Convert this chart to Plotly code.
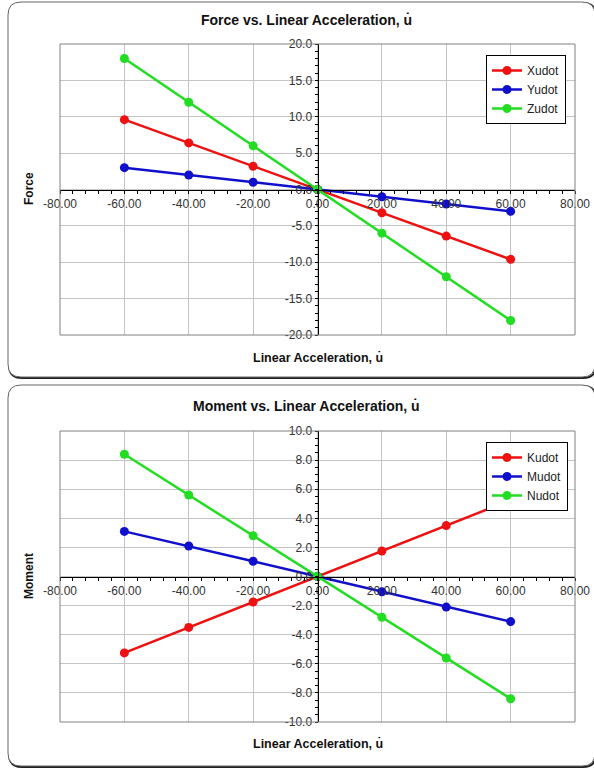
import plotly.graph_objects as go

W, H = 594, 772

# ---------------- data ----------------
accel = [-60, -40, -20, 0, 20, 40, 60]
xudot = [9.6, 6.4, 3.2, 0, -3.2, -6.4, -9.6]
yudot = [3.0, 2.0, 1.0, 0, -1.0, -2.0, -3.0]
zudot = [18.0, 12.0, 6.0, 0, -6.0, -12.0, -18.0]
kudot = [-5.25, -3.5, -1.75, 0, 1.75, 3.5, 5.25]
mudot = [3.1, 2.1, 1.05, 0, -1.05, -2.1, -3.1]
nudot = [8.4, 5.6, 2.8, 0, -2.8, -5.6, -8.4]

force_names = ["Xudot", "Yudot", "Zudot"]
moment_names = ["Kudot", "Mudot", "Nudot"]
colors = ["#EE1111", "#1010CC", "#22DD22"]

x_tickvals = [-80, -60, -40, -20, 0, 20, 40, 60, 80]
x_ticktext = ["-80.00", "-60.00", "-40.00", "-20.00", "0.00", "20.00", "40.00", "60.00", "80.00"]
y1_tickvals = [-20, -15, -10, -5, 0, 5, 10, 15, 20]
y1_ticktext = ["-20.0", "-15.0", "-10.0", "-5.0", "0.0", "5.0", "10.0", "15.0", "20.0"]
y2_tickvals = [-10, -8, -6, -4, -2, 0, 2, 4, 6, 8, 10]
y2_ticktext = ["-10.0", "-8.0", "-6.0", "-4.0", "-2.0", "0.0", "2.0", "4.0", "6.0", "8.0", "10.0"]

title1 = "Force vs. Linear Acceleration, u\u0307"
title2 = "Moment vs. Linear Acceleration, u\u0307"
xtitle = "Linear Acceleration, u\u0307"
ytitle1 = "Force"
ytitle2 = "Moment"

FONT = "Liberation Sans, Arial, sans-serif"


def px(x):
    return x / W


def py(y):
    return 1 - y / H


# plot-area geometry (pixels)
xl, xr = 60, 575
t1, b1 = 44, 335
t2, b2 = 431, 722

fig = go.Figure()

for name, vals, c in zip(force_names, [xudot, yudot, zudot], colors):
    fig.add_trace(go.Scatter(x=accel, y=vals, name=name, mode="lines+markers",
                             line=dict(color=c, width=2.5),
                             marker=dict(color=c, size=9),
                             xaxis="x", yaxis="y", legend="legend"))
for name, vals, c in zip(moment_names, [kudot, mudot, nudot], colors):
    fig.add_trace(go.Scatter(x=accel, y=vals, name=name, mode="lines+markers",
                             line=dict(color=c, width=2.5),
                             marker=dict(color=c, size=9),
                             xaxis="x2", yaxis="y2", legend="legend2"))

tickfont = dict(family=FONT, size=12, color="#333")


def xaxis_main(ypos):
    return dict(domain=[px(xl), px(xr)], range=[-80, 80],
                tickmode="array", tickvals=x_tickvals, ticktext=x_ticktext,
                showgrid=True, gridcolor="#C4C4C4", gridwidth=1,
                zeroline=False, showline=True, linecolor="black", linewidth=1,
                ticks="outside", ticklen=3, tickcolor="black",
                minor=dict(dtick=4, tick0=0, ticks="outside", ticklen=3, tickcolor="black", showgrid=False),
                anchor="free", position=ypos, tickfont=tickfont, fixedrange=True, automargin=False)


def yaxis_main(dom, rng, tv, tt, mdt, xpos):
    return dict(domain=dom, range=rng, tickmode="array", tickvals=tv, ticktext=tt,
                showgrid=True, gridcolor="#C4C4C4", gridwidth=1,
                zeroline=False, showline=True, linecolor="black", linewidth=1,
                ticks="outside", ticklen=3, tickcolor="black",
                minor=dict(dtick=mdt, tick0=0, ticks="outside", ticklen=3, tickcolor="black", showgrid=False),
                anchor="free", position=xpos, tickfont=tickfont, fixedrange=True, automargin=False)


def overlay_x(over, ypos):
    return dict(overlaying=over, domain=[px(xl), px(xr)], range=[-80, 80],
                tickmode="array", tickvals=x_tickvals,
                showgrid=False, zeroline=False, showline=False, showticklabels=False,
                ticks="inside", ticklen=3, tickcolor="black",
                minor=dict(dtick=4, tick0=0, ticks="inside", ticklen=3, tickcolor="black", showgrid=False),
                anchor="free", position=ypos, fixedrange=True, automargin=False)


def overlay_y(over, dom, rng, tv, mdt, xpos):
    return dict(overlaying=over, domain=dom, range=rng, tickmode="array", tickvals=tv,
                showgrid=False, zeroline=False, showline=False, showticklabels=False,
                ticks="inside", ticklen=3, tickcolor="black",
                minor=dict(dtick=mdt, tick0=0, ticks="inside", ticklen=3, tickcolor="black", showgrid=False),
                anchor="free", position=xpos, fixedrange=True, automargin=False)


dom1 = [py(b1), py(t1)]
dom2 = [py(b2), py(t2)]
xmid = (px(xl) + px(xr)) / 2
ymid1 = (dom1[0] + dom1[1]) / 2
ymid2 = (dom2[0] + dom2[1]) / 2

legend_style = dict(xanchor="left", yanchor="top",
                    bgcolor="white", bordercolor="black", borderwidth=1,
                    font=dict(family=FONT, size=12, color="#222"),
                    itemwidth=30, tracegroupgap=0)

fig.update_layout(
    width=W, height=H, margin=dict(l=0, r=0, t=0, b=0, autoexpand=False),
    paper_bgcolor="white", plot_bgcolor="white",
    font=dict(family=FONT, size=12, color="black"),
    xaxis=xaxis_main(ymid1),
    yaxis=yaxis_main(dom1, [-20, 20], y1_tickvals, y1_ticktext, 1, xmid),
    xaxis2=xaxis_main(ymid2),
    yaxis2=yaxis_main(dom2, [-10, 10], y2_tickvals, y2_ticktext, 0.5, xmid),
    xaxis3=overlay_x("x", ymid1),
    yaxis3=overlay_y("y", dom1, [-20, 20], y1_tickvals, 1, xmid),
    xaxis4=overlay_x("x2", ymid2),
    yaxis4=overlay_y("y2", dom2, [-10, 10], y2_tickvals, 0.5, xmid),
    showlegend=True,
    legend=dict(x=px(486), y=py(55), **legend_style),
    legend2=dict(x=px(486), y=py(442), **legend_style),
)


def rounded_rect(x0, y0, x1, y1, r):
    X0, X1 = px(x0), px(x1)
    Y0, Y1 = py(y0), py(y1)
    rx, ry = r / W, r / H
    return (f"M {X0+rx},{Y0} L {X1-rx},{Y0} Q {X1},{Y0} {X1},{Y0-ry} "
            f"L {X1},{Y1+ry} Q {X1},{Y1} {X1-rx},{Y1} "
            f"L {X0+rx},{Y1} Q {X0},{Y1} {X0},{Y1+ry} "
            f"L {X0},{Y0-ry} Q {X0},{Y0} {X0+rx},{Y0} Z")


shapes = []
for (y0, y1) in [(2, 377), (385, 766)]:
    shapes.append(dict(type="path", xref="paper", yref="paper",
                       path=rounded_rect(9, y0 + 1, 596, y1 + 1, 13),
                       line=dict(color="#222", width=2), layer="below"))
    shapes.append(dict(type="path", xref="paper", yref="paper",
                       path=rounded_rect(8, y0, 595, y1, 13),
                       line=dict(color="#666", width=1), fillcolor="white", layer="below"))
# plot-area borders
for xa, ya in [("x", "y"), ("x2", "y2")]:
    shapes.append(dict(type="rect", xref=f"{xa} domain", yref=f"{ya} domain",
                       x0=0, y0=0, x1=1, y1=1, line=dict(color="#808080", width=1)))
fig.update_layout(shapes=shapes)

ann = []


def add_text(text, x, y, size, angle=0):
    ann.append(dict(text=f"<b>{text}</b>", x=px(x), y=py(y), xref="paper", yref="paper",
                    showarrow=False, xanchor="center", yanchor="middle",
                    textangle=angle, font=dict(family=FONT, size=size, color="#111")))


add_text(title1, 306, 20, 14)
add_text(xtitle, 318, 357, 12.5)
add_text(ytitle1, 29, 189, 12, -90)
add_text(title2, 306, 406, 14)
add_text(xtitle, 318, 743, 12.5)
add_text(ytitle2, 29, 576, 12, -90)
fig.update_layout(annotations=ann)

fig.write_html("out.html")
